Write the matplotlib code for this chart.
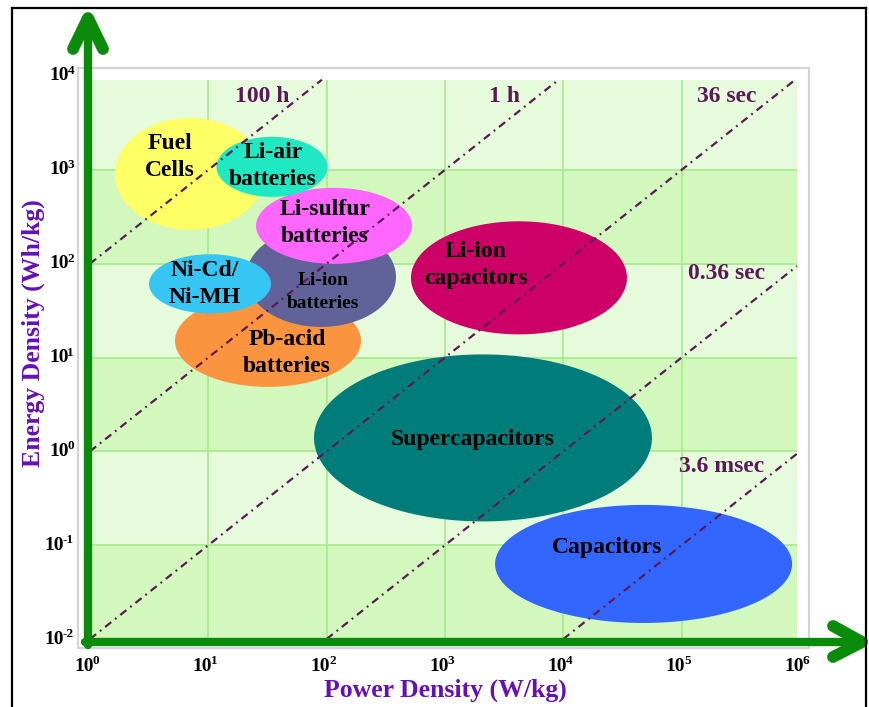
import numpy as np
import matplotlib
matplotlib.use("Agg")
import matplotlib.pyplot as plt
from matplotlib.lines import Line2D
from matplotlib.patches import Rectangle

plt.rcParams['font.family'] = ['Liberation Serif', 'DejaVu Serif']

# Technology regions on the Ragone plane (log10 of power / energy density)
technologies = ["Pb-acid\nbatteries", "Li-ion\nbatteries", "Li-sulfur\nbatteries",
                "Ni-Cd/\nNi-MH", "Fuel\nCells", "Li-air\nbatteries",
                "Li-ion\ncapacitors", "Supercapacitors", "Capacitors"]
center_logP = [1.504, 1.952, 2.062, 1.014, 0.845, 1.538, 3.625, 3.321, 4.678]
center_logE = [1.177, 1.859, 2.403, 1.785, 2.957, 3.032, 1.849, 0.143, -1.200]
span_logP = [1.572, 1.268, 1.318, 1.031, 1.268, 0.938, 1.825, 2.856, 2.510]
span_logE = [0.980, 1.066, 0.810, 0.630, 1.194, 0.640, 1.205, 1.780, 1.258]
region_colors = ["#fb943e", "#62629a", "#ff66ff", "#36c6f4", "#ffff66",
                 "#1fe8c2", "#cc0066", "#007d7a", "#3366ff"]
label_logP = [1.665, 1.969, 1.986, 0.972, 0.676, 1.547, 3.262, 3.237, 4.369]
label_logE = [1.049, 1.699, 2.435, 1.785, 3.139, 3.043, 1.987, 0.122, -1.030]
label_sizes = [17, 14, 17, 17, 17, 17, 17, 17, 17]

# Constant discharge-time lines: E = P * t (t in hours)
time_labels = ["100 h", "1 h", "36 sec", "0.36 sec", "3.6 msec"]
time_hours = [100, 1, 0.01, 1e-4, 1e-6]
time_label_logP = [1.454, 3.507, 5.383, 5.375, 5.341]
time_label_logE = [3.778, 3.778, 3.778, 1.900, -0.160]

x_decades = [0, 1, 2, 3, 4, 5, 6]
y_decades = [-2, -1, 0, 1, 2, 3, 4]

W, H = 870, 707
fig = plt.figure(figsize=(W / 100, H / 100), dpi=100)


def fx(px):
    return px / W


def fy(py):
    return 1 - py / H


ax = fig.add_axes([fx(90), fy(639), fx(800) - fx(90), fy(76) - fy(639)])
ax.set_xscale('log')
ax.set_yscale('log')
ax.set_xlim(1, 1e6)
ax.set_ylim(1e-2, 1e4)
ax.set_facecolor('white')
for s in ax.spines.values():
    s.set_visible(False)
ax.set_xticks([])
ax.set_yticks([])
ax.minorticks_off()

# shaded bands and grid
x_end = 10 ** 5.975
y_end = 10 ** 3.96
band_light, band_dark, grid_c = "#e6fadc", "#d3f8be", "#a6ea8a"
for k in range(-2, 4):
    lo, hi = 10.0 ** k, min(10.0 ** (k + 1), y_end)
    ax.fill_between([1, x_end], lo, hi, color=band_dark if k % 2 == 0 else band_light,
                    lw=0, zorder=0)
ax.vlines([10.0 ** d for d in x_decades[1:-1]], 1e-2, y_end, color=grid_c, lw=1.2, zorder=0.5)
ax.hlines([10.0 ** d for d in y_decades[1:-1]], 1, x_end, color=grid_c, lw=1.2, zorder=0.5)

# technology regions
t = np.linspace(0, 2 * np.pi, 300)
for cp, ce, wp, he, col in zip(center_logP, center_logE, span_logP, span_logE, region_colors):
    ax.fill(10 ** (cp + wp / 2 * np.cos(t)), 10 ** (ce + he / 2 * np.sin(t)),
            color=col, lw=0, zorder=1)

# discharge-time lines
line_c = "#5a1a58"
for th in time_hours:
    x0 = max(1.0, 1e-2 / th)
    x1 = min(x_end, y_end / th)
    xs = np.array([x0, x1])
    ax.plot(xs, xs * th, color=line_c, lw=1.6, ls=(0, (3.5, 2.2, 0.8, 2.2)), zorder=2)

for txt, lp, le in zip(time_labels, time_label_logP, time_label_logE):
    ax.text(10 ** lp, 10 ** le, txt, ha='center', va='center', fontsize=17,
            fontweight='bold', color=line_c, zorder=3)

for txt, lp, le, fs in zip(technologies, label_logP, label_logE, label_sizes):
    ax.text(10 ** lp, 10 ** le, txt, ha='center', va='center', fontsize=fs,
            fontweight='bold', color='black', linespacing=1.4, zorder=3)

# decade tick labels: "10" with a raised exponent
base_fs, sup_fs = 14, 9.5
for d in x_decades:
    ax.annotate("10", xy=(10.0 ** d, 1e-2), xycoords='data', xytext=(2.6, -20),
                textcoords='offset points', ha='right', va='center',
                fontsize=base_fs, fontweight='bold', annotation_clip=False)
    ax.annotate(str(d), xy=(10.0 ** d, 1e-2), xycoords='data', xytext=(2.0, -15.5),
                textcoords='offset points', ha='left', va='center',
                fontsize=sup_fs, fontweight='bold', annotation_clip=False)
for d in y_decades:
    sup = ax.annotate(str(d), xy=(1, 10.0 ** d), xycoords='data',
                      xytext=(-11.5, 3.5), textcoords='offset points', ha='right',
                      va='center', fontsize=sup_fs, fontweight='bold',
                      annotation_clip=False)
    ax.annotate("10", xy=(0, 0.5), xycoords=sup, xytext=(1.0, -3.5),
                textcoords='offset points', ha='right', va='center',
                fontsize=base_fs, fontweight='bold', annotation_clip=False)

# axis titles
purple = "#6410b4"
fig.text(fx(445), fy(690), "Power Density (W/kg)", ha='center', va='center',
         fontsize=18.5, fontweight='bold', color=purple)
fig.text(fx(33), fy(333), "Energy Density (Wh/kg)", ha='center', va='center',
         rotation=90, fontsize=18.5, fontweight='bold', color=purple)

# panel frame
fig.add_artist(Rectangle((fx(78), fy(648)), fx(809) - fx(78), fy(68) - fy(648),
                         transform=fig.transFigure, facecolor='white',
                         edgecolor='#d4d4d4', lw=1.6, zorder=-1))

# green axis arrows
green = "#0a8c0a"


def seg(xs, ys, lw):
    fig.add_artist(Line2D([fx(v) for v in xs], [fy(v) for v in ys], color=green, lw=lw,
                          solid_capstyle='round', solid_joinstyle='round',
                          transform=fig.transFigure, zorder=5))


seg([88, 88], [645, 22], 6)
seg([73, 88, 103], [49, 18, 49], 8.5)
seg([85, 858], [642, 642], 6)
seg([833, 862, 833], [626, 642, 657], 8.5)

# outer border
for xs, ys in [([12, 12], [707, 8]), ([12, 866], [8, 8]), ([866, 866], [8, 707])]:
    fig.add_artist(Line2D([fx(v) for v in xs], [fy(v) for v in ys], color='black', lw=1.6,
                          transform=fig.transFigure, zorder=6))

fig.savefig("out.png", dpi=100)
